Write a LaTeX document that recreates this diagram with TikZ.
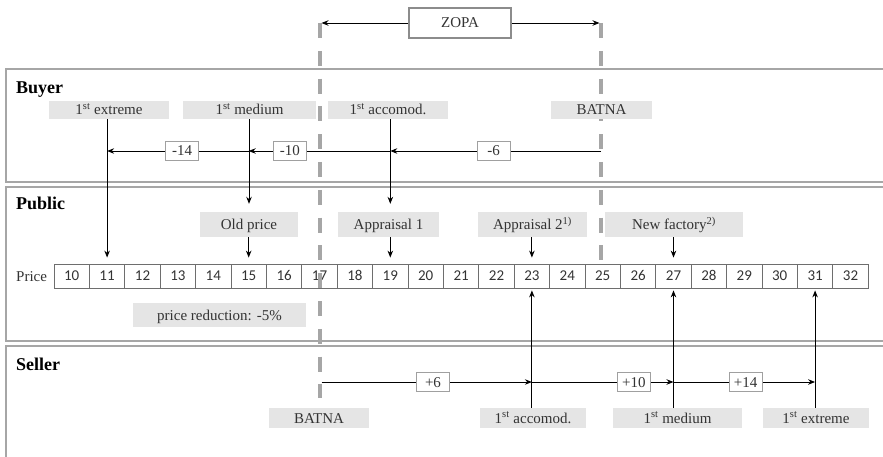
\documentclass[tikz,border=0pt]{standalone}
\usepackage{fontspec}
\setmainfont{Liberation Serif}
\newfontfamily\numfont{Carlito}
\usetikzlibrary{arrows.meta}
\definecolor{panelgray}{HTML}{A6A6A6}
\definecolor{labelfill}{HTML}{E5E5E5}
\definecolor{dashgray}{HTML}{A6A6A6}
\definecolor{txt}{HTML}{333333}
\definecolor{cellgray}{HTML}{6E6E6E}
\definecolor{deltagray}{HTML}{A0A0A0}
\definecolor{zopagray}{HTML}{8C8C8C}
\tikzset{
 panel/.style={draw=panelgray, line width=1.4pt},
 lbl/.style={fill=labelfill, text=txt, font=\fontsize{15}{17}\selectfont, inner sep=0pt, text height=10pt, text depth=0pt},
 delta/.style={draw=deltagray, fill=white, text=txt, line width=0.9pt, font=\fontsize{15}{17}\selectfont, minimum width=33pt, minimum height=19pt, inner sep=0pt, text height=10pt, text depth=0pt},
 arr/.style={-{Stealth[length=7pt,width=5.5pt]}, line width=0.9pt, draw=black},
 pcell/.style={draw=cellgray, line width=0.8pt, minimum width=35.4pt, minimum height=24pt, inner sep=0pt, text=txt, font=\numfont\fontsize{15}{17}\selectfont, text height=9.5pt, text depth=0pt},
 zline/.style={draw=dashgray, line width=3.3pt, dash pattern=on 15pt off 12.8pt},
 title/.style={anchor=west, font=\bfseries\fontsize{18}{20}\selectfont, inner sep=0pt, text height=12pt, text depth=0pt},
}
\begin{document}
\begin{tikzpicture}[x=1pt,y=-1pt]
\useasboundingbox (0,0) rectangle (883,457);
% panels
\draw[panel] (6,69) rectangle (900,182);
\draw[panel] (6,187) rectangle (900,341);
\draw[panel] (6,346) rectangle (900,470);
% titles
\node[title] (tbuyer) at (16,87.5) {Buyer};
\node[title] (tpublic) at (16,204) {Public};
\node[title] (tseller) at (16,364) {Seller};
% price row
\node[anchor=west, inner sep=0pt, text=txt, font=\fontsize{15}{17}\selectfont, text height=10pt, text depth=0pt] (pricelbl) at (16,276) {Price};
\foreach \i in {10,...,32}
  \node[pcell] (p\i) at ({54+35.4*(\i-10)+17.7},276) {\i};
% ZOPA dashed lines
\coordinate (zlt) at (320,23);
\coordinate (zlb) at (320,398);
\coordinate (zrt) at (601,23);
\coordinate (zrb) at (601,262);
\draw[zline] (zlt) -- (zlb);
\draw[zline] (zrt) -- (zrb);
% ZOPA box
\node[draw=zopagray, line width=2pt, fill=white, minimum width=102pt, minimum height=30pt, inner sep=0pt, text=txt, font=\fontsize{15}{17}\selectfont, text height=10pt, text depth=0pt] (zopa) at (460,23) {ZOPA};
\coordinate (zla) at (321.5,23);
\coordinate (zra) at (599.5,23);
\draw[arr] (zopa.west) -- (zla);
\draw[arr] (zopa.east) -- (zra);
% buyer labels
\node[lbl, minimum width=120pt, minimum height=18pt] (bext) at (109,110) {1\textsuperscript{st} extreme};
\node[lbl, minimum width=133pt, minimum height=18pt] (bmed) at (249.5,110) {1\textsuperscript{st} medium};
\node[lbl, minimum width=120pt, minimum height=18pt] (bacc) at (388,110) {1\textsuperscript{st} accomod.};
\node[lbl, minimum width=101pt, minimum height=18pt] (bbatna) at (601.5,110) {BATNA};
% public labels
\node[lbl, minimum width=98pt, minimum height=25pt] (old) at (249,224.5) {Old price};
\node[lbl, minimum width=101pt, minimum height=25pt] (ap1) at (388.5,224.5) {Appraisal 1};
\node[lbl, minimum width=109pt, minimum height=25pt] (ap2) at (532.5,224.5) {Appraisal 2\textsuperscript{1)}};
\node[lbl, minimum width=138pt, minimum height=25pt] (nf) at (674,224.5) {New factory\textsuperscript{2)}};
\node[lbl, minimum width=173pt, minimum height=24pt] (pr) at (219.5,315) {price reduction: -5\%};
% seller labels
\node[lbl, minimum width=100pt, minimum height=20pt] (sbatna) at (319,418) {BATNA};
\node[lbl, minimum width=106pt, minimum height=20pt] (sacc) at (533,418) {1\textsuperscript{st} accomod.};
\node[lbl, minimum width=129pt, minimum height=20pt] (smed) at (677.5,418) {1\textsuperscript{st} medium};
\node[lbl, minimum width=106pt, minimum height=20pt] (sext) at (816,418) {1\textsuperscript{st} extreme};
% buyer vertical arrows
\draw[arr, shorten >=6pt] (bext.south -| p11) -- (p11.north);
\draw[arr, shorten >=8pt] (bmed.south -| old.north) -- (old.north);
\draw[arr, shorten >=6pt] (old.south -| p15) -- (p15.north);
\draw[arr, shorten >=8pt] (bacc.south -| p19) -- (ap1.north -| p19);
\draw[arr, shorten >=6pt] (ap1.south -| p19) -- (p19.north);
\draw[arr, shorten >=6pt] (ap2.south -| p23) -- (p23.north);
\draw[arr, shorten >=6pt] (nf.south -| p27) -- (p27.north);
% buyer concessions
\coordinate (bz) at (601,151);
\coordinate (b19) at (p19 |- bz);
\coordinate (b15) at (p15 |- bz);
\coordinate (b11) at (p11 |- bz);
\draw[arr] (bz) -- node[delta, pos=.51] (dm6) {-6} (b19);
\draw[arr] (b19) -- node[delta, pos=.71] (dm10) {-10} (b15);
\draw[arr] (b15) -- node[delta, pos=.47] (dm14) {-14} (b11);
% seller vertical arrows
\draw[arr, shorten >=2pt] (sacc.north -| p23) -- (p23.south);
\draw[arr, shorten >=2pt] (smed.north -| p27) -- (p27.south);
\draw[arr, shorten >=2pt] (sext.north -| p31) -- (p31.south);
% seller concessions
\coordinate (sz) at (321.5,382);
\coordinate (s23) at (p23 |- sz);
\coordinate (s27) at (p27 |- sz);
\coordinate (s31) at (p31 |- sz);
\draw[arr] (sz) -- node[delta, pos=.53] (dp6) {+6} (s23);
\draw[arr] (s23) -- node[delta, pos=.72] (dp10) {+10} (s27);
\draw[arr] (s27) -- node[delta, pos=.51] (dp14) {+14} (s31);
\end{tikzpicture}
\end{document}
